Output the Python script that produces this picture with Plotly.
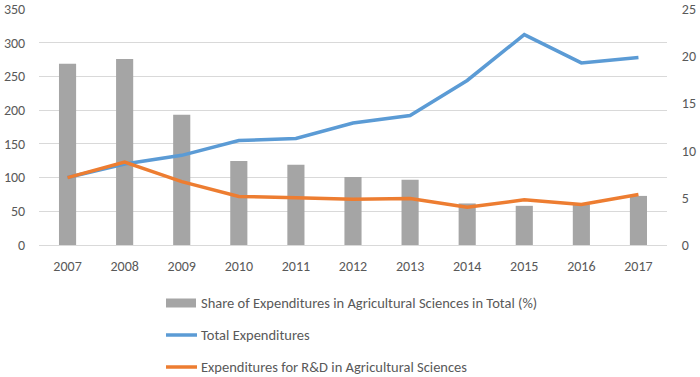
import plotly.graph_objects as go

years = ["2007", "2008", "2009", "2010", "2011", "2012", "2013", "2014", "2015", "2016", "2017"]
share_pct = [19.2, 19.7, 13.8, 8.9, 8.5, 7.2, 6.9, 4.4, 4.15, 4.3, 5.2]
total_exp = [100, 120, 133, 155, 158, 181, 192, 244, 312, 270, 278]
rd_agri = [100, 123, 94, 72, 70, 68, 69, 56, 67, 60, 75]

series_names = [
    "Share of Expenditures in Agricultural Sciences in Total (%)",
    "Total Expenditures",
    "Expenditures for R&D in Agricultural Sciences",
]
series_colors = ["#A5A5A5", "#5B9BD5", "#ED7D31"]

left_ticks = [0, 50, 100, 150, 200, 250, 300, 350]
right_ticks = [0, 5, 10, 15, 20, 25]

font_family = "Carlito, Lato, sans-serif"
text_color = "#595959"
fs = 14

W, H = 700, 377
ML, MR, MT, MB = 39, 33, 9, 132
PW, PH = W - ML - MR, H - MT - MB


def px_x(x):
    return (x - ML) / PW


def px_y(y):
    return (H - MB - y) / PH


fig = go.Figure()
fig.add_trace(go.Bar(
    x=years, y=share_pct, name=series_names[0],
    marker=dict(color=series_colors[0], line=dict(width=0)), yaxis="y",
))
fig.add_trace(go.Scatter(
    x=years, y=total_exp, name=series_names[1], mode="lines",
    line=dict(color=series_colors[1], width=3.5), yaxis="y2",
))
fig.add_trace(go.Scatter(
    x=years, y=rd_agri, name=series_names[2], mode="lines",
    line=dict(color=series_colors[2], width=3.5), yaxis="y2",
))

# legend drawn below the plot (stacked entries)
shapes = []
annotations = []
legend_rows = [303, 335, 367]
for i, (name, col) in enumerate(zip(series_names, series_colors)):
    cy = legend_rows[i]
    if i == 0:
        shapes.append(dict(type="rect", xref="paper", yref="paper",
                           x0=px_x(166), x1=px_x(196), y0=px_y(cy - 4.5), y1=px_y(cy + 4.5),
                           fillcolor=col, line=dict(width=0)))
    else:
        shapes.append(dict(type="line", xref="paper", yref="paper",
                           x0=px_x(166), x1=px_x(197), y0=px_y(cy), y1=px_y(cy),
                           line=dict(color=col, width=3.5)))
    annotations.append(dict(xref="paper", yref="paper", x=px_x(199), y=px_y(cy),
                            xanchor="left", yanchor="middle", showarrow=False,
                            text=name.replace("&", "&amp;"),
                            font=dict(size=14.5, color=text_color, family=font_family)))

fig.update_layout(
    width=W, height=H,
    margin=dict(l=ML, r=MR, t=MT, b=MB),
    paper_bgcolor="white", plot_bgcolor="white",
    font=dict(family=font_family, size=fs, color=text_color),
    bargap=0.7,
    showlegend=False,
    shapes=shapes,
    annotations=annotations,
    xaxis=dict(
        type="category", showgrid=False, showline=True, linecolor="#D9D9D9", linewidth=1,
        ticks="outside", ticklen=8, tickcolor="rgba(0,0,0,0)", automargin=False,
        tickfont=dict(size=fs, color=text_color),
    ),
    yaxis=dict(
        side="right", range=[0, 25], tickvals=right_ticks, showgrid=False, zeroline=False,
        showline=False, ticks="outside", ticklen=11, tickcolor="rgba(0,0,0,0)",
        automargin=False, tickfont=dict(size=fs, color=text_color),
    ),
    yaxis2=dict(
        side="left", overlaying="y", range=[0, 350], tickvals=left_ticks, showgrid=True,
        gridcolor="#D9D9D9", gridwidth=1, zeroline=False, showline=False,
        ticks="outside", ticklen=10, tickcolor="rgba(0,0,0,0)", automargin=False,
        tickfont=dict(size=fs, color=text_color),
    ),
)

fig.write_html("out.html", config={"displayModeBar": False},
               post_script="document.body.style.margin='0';")
